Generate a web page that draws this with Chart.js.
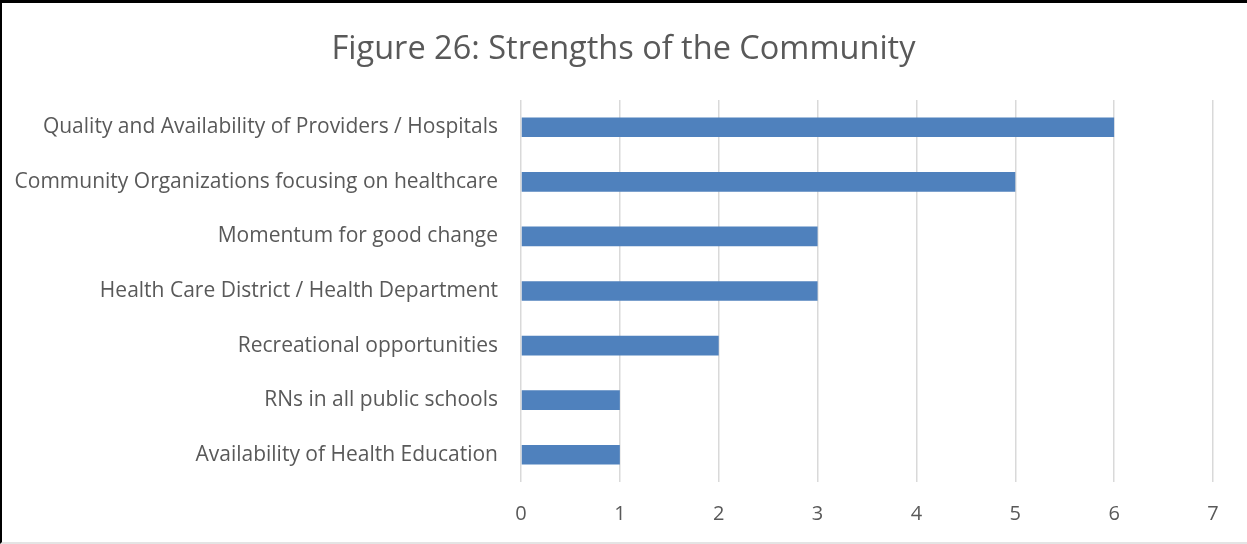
<!DOCTYPE html>
<html>
<head>
<meta charset="utf-8">
<title>Strengths of the Community</title>
<script src="https://cdn.jsdelivr.net/npm/chart.js@4"></script>
<style>
  html, body { margin: 0; padding: 0; background: #fff; }
  #wrap { position: relative; width: 1247px; height: 544px; }
  #chart { position: absolute; left: 0; top: 0; }
  #frame {
    position: absolute; left: 0; top: 0; width: 1247px; height: 544px;
    box-sizing: border-box; pointer-events: none;
    border-top: 3px solid #000; border-left: 2px solid #000;
    border-bottom: 2px solid #e4e4e4;
  }
</style>
</head>
<body>
<div id="wrap">
  <canvas id="chart" width="1247" height="544"></canvas>
  <div id="frame"></div>
</div>
<script>
// categories top to bottom, with number of mentions
const categories = [
  "Quality and Availability of Providers / Hospitals",
  "Community Organizations focusing on healthcare",
  "Momentum for good change",
  "Health Care District / Health Department",
  "Recreational opportunities",
  "RNs in all public schools",
  "Availability of Health Education"
];
const mentions = [6, 5, 3, 3, 2, 1, 1];
const axisMax = 7;

const textColor = "#595959";
const fontFamily = "'Open Sans', 'Noto Sans', sans-serif";

const ctx = document.getElementById("chart").getContext("2d");

const strengthsChart = new Chart(ctx, {
  type: "bar",
  data: {
    labels: categories,
    datasets: [
      {
        label: "Strengths",
        data: mentions,
        backgroundColor: "#4F81BD",
        borderWidth: 0,
        categoryPercentage: 1,
        barPercentage: 0.36,
      },
    ],
  },
  options: {
    indexAxis: "y",
    responsive: false,
    animation: false,
    layout: { padding: 0 },
    plugins: {
      legend: { display: false },
      tooltip: { enabled: false },
      title: {
        display: true,
        text: "Figure 26: Strengths of the Community",
        color: textColor,
        font: { family: fontFamily, size: 32.5, weight: "normal", lineHeight: 1.2 },
        padding: { top: 30, bottom: 31 },
      },
    },
    scales: {
      x: {
        min: 0,
        max: axisMax,
        ticks: {
          stepSize: 1,
          color: textColor,
          padding: 20,
          font: { family: fontFamily, size: 20 },
        },
        grid: { color: "#D9D9D9", lineWidth: 1.5, drawTicks: false },
        border: { display: false },
        afterFit: (scale) => { scale.height = 62; },
      },
      y: {
        ticks: {
          color: textColor,
          padding: 23,
          font: { family: fontFamily, size: 21 },
        },
        grid: { display: false, drawTicks: false },
        border: { display: false },
        afterFit: (scale) => { scale.width = 521; },
      },
      // empty right-hand axis, only reserves the margin after the plot
      yRight: {
        type: "category",
        position: "right",
        ticks: { display: false },
        grid: { display: false, drawTicks: false },
        border: { display: false },
        afterFit: (scale) => { scale.width = 34; },
      },
    },
  },
});
</script>
</body>
</html>
